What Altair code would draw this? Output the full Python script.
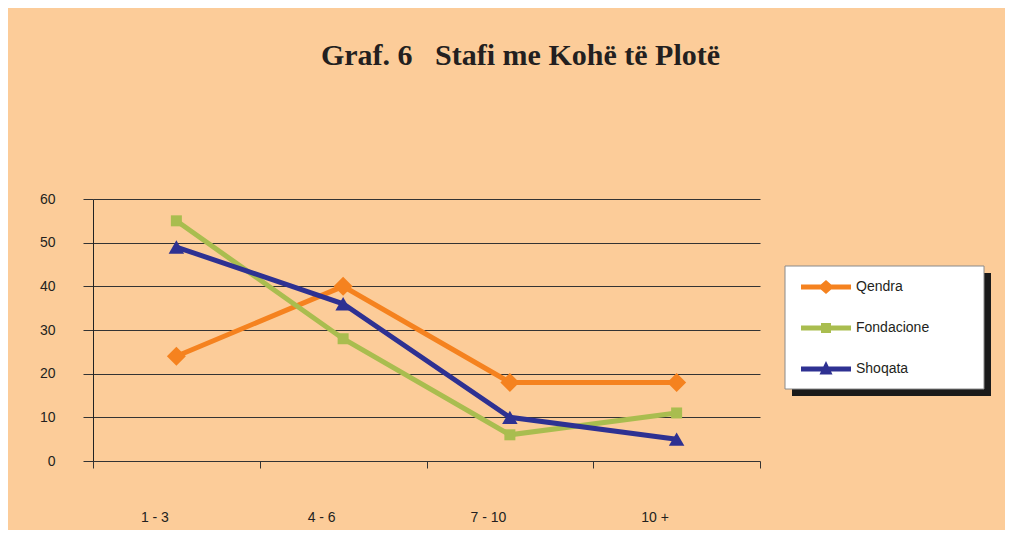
import altair as alt
import pandas as pd

categories = ["1 - 3", "4 - 6", "7 - 10", "10 +"]
series_names = ["Qendra", "Fondacione", "Shoqata"]
qendra = [24, 40, 18, 18]
fondacione = [55, 28, 6, 11]
shoqata = [49, 36, 10, 5]
colors = ["#F5821F", "#A9BD4F", "#2E3192"]
shapes = ["diamond", "square", "triangle-up"]
marker_sizes = [361, 121, 240]
title_text = "Graf. 6\u00a0\u00a0 Stafi me Kohë të Plotë"

rows = []
for name, vals in zip(series_names, [qendra, fondacione, shoqata]):
    for c, v in zip(categories, vals):
        rows.append({"cat": c, "series": name, "value": v})
df = pd.DataFrame(rows)

# legend symbols: a line with the marker in its middle (units of 10 px)
p_diamond = ("M-1,-0.25 L0.986,-0.25 L1.5,-0.7 L2.014,-0.25 L4,-0.25 L4,0.25 "
             "L2.014,0.25 L1.5,0.7 L0.986,0.25 L-1,0.25 Z")
p_square = ("M-1,-0.25 L1,-0.25 L1,-0.5 L2,-0.5 L2,-0.25 L4,-0.25 L4,0.25 "
            "L2,0.25 L2,0.5 L1,0.5 L1,0.25 L-1,0.25 Z")
p_tri = ("M-1,-0.25 L1.235,-0.25 L1.5,-0.8 L1.765,-0.25 L4,-0.25 L4,0.25 "
         "L2.006,0.25 L2.15,0.55 L0.85,0.55 L0.994,0.25 L-1,0.25 Z")
shape_expr = ("datum.value === 'Qendra' ? '%s' : datum.value === 'Fondacione' ? '%s' : '%s'"
              % (p_diamond, p_square, p_tri))

FONT = "Liberation Sans"
TXT = "#231F20"
GRID = "#333333"

color_scale = alt.Scale(domain=series_names, range=colors)
x_enc = alt.X("cat:N", sort=categories, bandPosition=0.5,
              scale=alt.Scale(type="band", paddingInner=0, paddingOuter=0),
              axis=alt.Axis(title=None, tickBand="extent", tickSize=7, tickColor=GRID,
                            domain=False, grid=False, labelAngle=0, labelFont=FONT,
                            labelFontSize=14, labelColor=TXT, labelPadding=42, labelOffset=-22))
y_enc = alt.Y("value:Q", scale=alt.Scale(domain=[0, 60], nice=False),
              axis=alt.Axis(title=None, values=[0, 10, 20, 30, 40, 50, 60], tickSize=10,
                            tickColor=GRID, domainColor="#222222", gridColor=GRID,
                            gridWidth=1, labelFont=FONT, labelFontSize=14, labelColor=TXT,
                            labelPadding=28))

legend = alt.Legend(title=None, orient="none", legendX=708, legendY=78, symbolSize=400,
                    labelFont=FONT, labelFontSize=14, labelColor=TXT, labelOffset=35,
                    rowPadding=24, padding=0, symbolStrokeWidth=0, symbolOpacity=1,
                    symbolType={"expr": shape_expr})

deco = alt.Data(values=[{"k": 1}])
shadow = alt.Chart(deco).mark_rect(fill="#1a1a1a").encode(
    x=alt.value(699), x2=alt.value(898), y=alt.value(74), y2=alt.value(197))
box = alt.Chart(deco).mark_rect(fill="white", stroke="#8a8a8a", strokeWidth=1).encode(
    x=alt.value(692), x2=alt.value(891), y=alt.value(67), y2=alt.value(190))

base = alt.Chart(df)
lines = base.mark_line(strokeWidth=5).encode(
    x=x_enc, y=y_enc,
    color=alt.Color("series:N", scale=color_scale, legend=legend),
    detail="series:N")

point_layers = []
for name, shp, sz in zip(series_names, shapes, marker_sizes):
    point_layers.append(
        base.transform_filter(alt.datum.series == name)
        .mark_point(filled=True, opacity=1, shape=shp, size=sz)
        .encode(x=x_enc, y=y_enc,
                color=alt.Color("series:N", scale=color_scale, legend=legend)))

chart = alt.layer(shadow, box, lines, *point_layers).properties(
    width=667, height=262,
    padding={"left": 85, "top": 191, "right": 245, "bottom": 69},
    autosize=alt.AutoSizeParams(type="none"),
    background="#FCCC99",
    title=alt.TitleParams(title_text, font="Liberation Serif", fontSize=30, fontWeight="bold",
                          color=TXT, anchor="middle", dx=94, offset=97, baseline="alphabetic"),
).configure_view(stroke=None)

chart.save("out.html", embed_options={"renderer": "svg", "actions": False})
